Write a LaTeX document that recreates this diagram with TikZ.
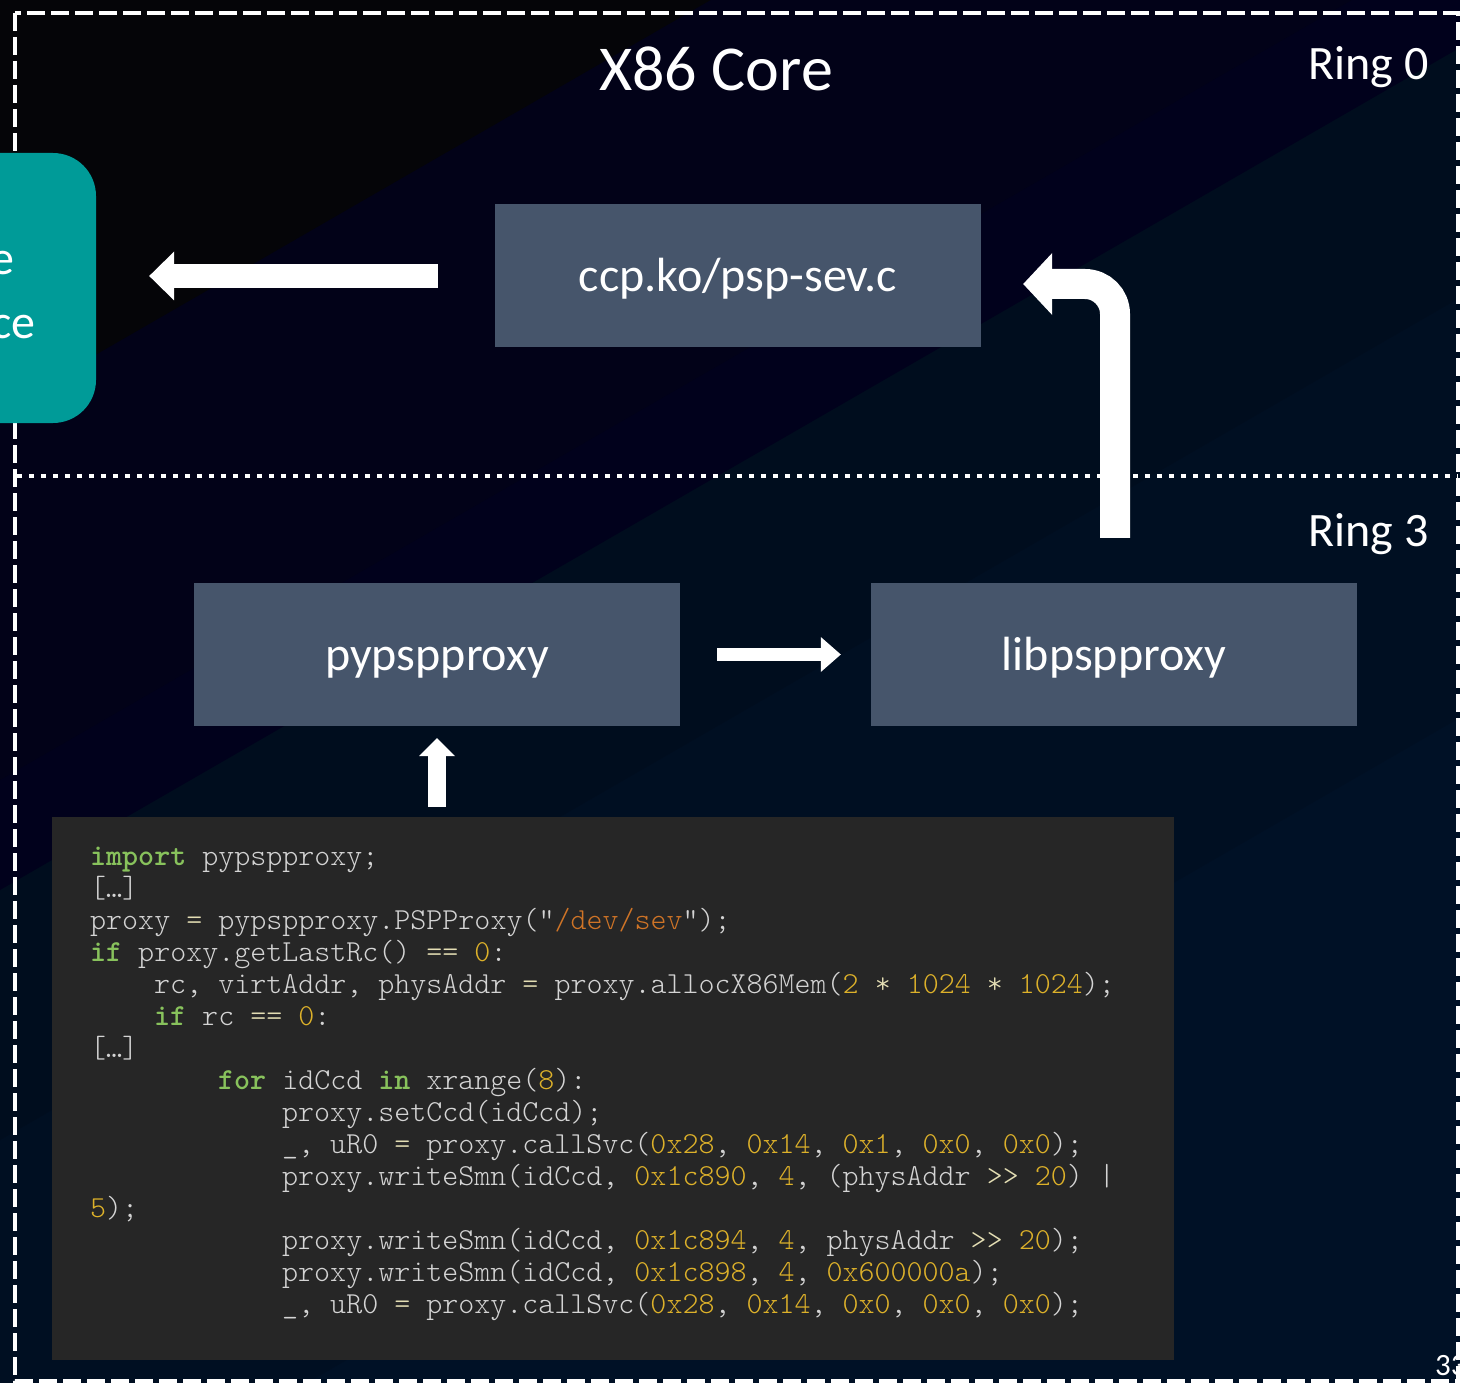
\documentclass[tikz,border=0pt]{standalone}
\usepackage{fontspec}
\setmainfont{Carlito}
\newfontfamily\codefont{lmmonolt10-regular.otf}[BoldFont=lmmonolt10-bold.otf]
\usetikzlibrary{calc}

% background bands
\definecolor{bgA}{HTML}{050508}
\definecolor{bgB}{HTML}{020218}
\definecolor{bgC}{HTML}{01011C}
\definecolor{bgD}{HTML}{000D1E}
\definecolor{bgE}{HTML}{000F22}
\definecolor{bgF}{HTML}{001126}
% shapes
\definecolor{boxslate}{HTML}{46556B}
\definecolor{pspteal}{HTML}{009B98}
\definecolor{codebgc}{HTML}{262626}
% code highlighting
\definecolor{codetext}{HTML}{D4D4D4}
\definecolor{codekw}{HTML}{88C25C}
\definecolor{codenum}{HTML}{DDB12A}
\definecolor{codestr}{HTML}{CF7426}
\definecolor{codeop}{HTML}{E4DEB4}

\newcommand\ckw[1]{\textcolor{codekw}{\textbf{#1}}}
\newcommand\cnum[1]{\textcolor{codenum}{#1}}
\newcommand\cstr[1]{\textcolor{codestr}{#1}}
\newcommand\cop[1]{\textcolor{codeop}{#1}}

\begin{document}
\begin{tikzpicture}[x=1pt, y=-1pt,
  box/.style={fill=boxslate, minimum width=486pt, minimum height=143pt,
    inner sep=0pt, text=white, font=\fontsize{48}{48}\selectfont,
    text height=36pt, text depth=5pt},
  lbl/.style={text=white, inner sep=0pt, font=\fontsize{48}{48}\selectfont},
  shaft/.style={draw=white, line cap=butt},
  codeline/.style={anchor=base west, inner sep=0pt, text=codetext,
    font=\codefont\fontsize{30.5}{32}\selectfont},
  dashedframe/.style={draw=white, line width=4.5pt, dash pattern=on 18pt off 6pt},
  dottedsep/.style={draw=white, line width=4.5pt, dash pattern=on 4.5pt off 7.5pt}]

\useasboundingbox (0,0) rectangle (1460,1383);
\clip (0,0) rectangle (1460,1383);

% diagonal background bands
\fill[bgF] (0,0) rectangle (1460,1383);
\fill[bgE] (0,1560) -- (1460,717.6) -- (1460,-700) -- (0,-700) -- cycle;
\fill[bgD] (0,1140) -- (1460,297.6) -- (1460,-700) -- (0,-700) -- cycle;
\fill[bgC] (0,890) -- (1460,47.6) -- (1460,-700) -- (0,-700) -- cycle;
\fill[bgB] (0,780) -- (1460,-62.4) -- (1460,-700) -- (0,-700) -- cycle;
\fill[bgA] (0,410) -- (1460,-432.4) -- (1460,-700) -- (0,-700) -- cycle;

% core frame and ring separator
\draw[dashedframe] (15,13) rectangle (1458,1381);
\draw[dottedsep] (17,476) -- (1458,476);

% secure processor block (cut off at the left edge)
\node[fill=pspteal, rounded corners=43pt, minimum width=250pt,
  minimum height=270pt, inner sep=0pt] (psp) at (-29,288) {};
\node[lbl, anchor=base east] (pspa) at (15,275) {e};
\node[lbl, anchor=base east] (pspb) at (36,338) {ce};

% titles
\node[text=white, inner sep=0pt, anchor=base,
  font=\fontsize{64}{64}\selectfont] (core) at (716,91) {X86 Core};
\node[lbl, anchor=base east] (ring0) at (1429,80) {Ring 0};
\node[lbl, anchor=base east] (ring3) at (1429,546) {Ring 3};

% software components
\node[box] (ccp) at (738,275.5) {ccp.ko/psp-sev.c};
\node[box] (pyp) at (437,654.5) {pypspproxy};
\node[box] (lib) at (1114,654.5) {libpspproxy};

% code listing
\node[fill=codebgc, minimum width=1122pt, minimum height=543pt,
  inner sep=0pt] (code) at (613,1088.5) {};

\node[codeline] (l1) at (90,865) {\ckw{import} pypspproxy;};
\node[codeline] (l2) at (90,897) {[…]};
\node[codeline] (l3) at (90,929) {proxy \cop{=} pypspproxy.PSPProxy("\cstr{/dev/sev}");};
\node[codeline] (l4) at (90,961) {\ckw{if} proxy.getLastRc() \cop{==} \cnum{0}:};
\node[codeline] (l5) at (154,993) {rc, virtAddr, physAddr \cop{=} proxy.allocX86Mem(\cnum{2} \cop{*} \cnum{1024} \cop{*} \cnum{1024});};
\node[codeline] (l6) at (154,1025) {\ckw{if} rc \cop{==} \cnum{0}:};
\node[codeline] (l7) at (90,1057) {[…]};
\node[codeline] (l8) at (218,1089) {\ckw{for} idCcd \ckw{in} xrange(\cnum{8}):};
\node[codeline] (l9) at (282,1121) {proxy.setCcd(idCcd);};
\node[codeline] (l10) at (282,1153) {\_, uR0 \cop{=} proxy.callSvc(\cnum{0x28}, \cnum{0x14}, \cnum{0x1}, \cnum{0x0}, \cnum{0x0});};
\node[codeline] (l11) at (282,1185) {proxy.writeSmn(idCcd, \cnum{0x1c890}, \cnum{4}, (physAddr \cop{>\kern0pt>} \cnum{20}) |};
\node[codeline] (l12) at (90,1217) {\cnum{5});};
\node[codeline] (l13) at (282,1249) {proxy.writeSmn(idCcd, \cnum{0x1c894}, \cnum{4}, physAddr \cop{>\kern0pt>} \cnum{20});};
\node[codeline] (l14) at (282,1281) {proxy.writeSmn(idCcd, \cnum{0x1c898}, \cnum{4}, \cnum{0x600000a});};
\node[codeline] (l15) at (282,1313) {\_, uR0 \cop{=} proxy.callSvc(\cnum{0x28}, \cnum{0x14}, \cnum{0x0}, \cnum{0x0}, \cnum{0x0});};

% driver -> secure processor
\coordinate (a1tail) at ($(ccp.west)+(-57,0.5)$);
\coordinate (a1tip) at ($(ccp.west -| psp.east)+(53,0.5)$);
\draw[shaft, line width=24pt] (a1tail) -- ($(a1tip)+(24,0)$);
\fill[white] (a1tip) -- ++(25,-24.5) -- ++(0,49) -- cycle;

% library -> driver (bent upward through the ring boundary)
\coordinate (a2tail) at ($(lib.north)+(1,-45)$);
\coordinate (a2tip) at ($(ccp.east)+(42,8.5)$);
\draw[shaft, line width=30pt, rounded corners=30pt] (a2tail) |- ($(a2tip)+(28,0)$);
\fill[white] (a2tip) -- ++(29,-31) -- ++(0,62) -- cycle;

% python binding -> library
\coordinate (a3tail) at ($(pyp.east)+(37,0)$);
\coordinate (a3tip) at ($(lib.west)+(-30,0)$);
\draw[shaft, line width=13pt] (a3tail) -- ($(a3tip)+(-19,0)$);
\fill[white] (a3tip) -- ++(-20,-17.5) -- ++(0,35) -- cycle;

% script -> python binding
\coordinate (a4tail) at ($(pyp.south)+(0,81)$);
\coordinate (a4tip) at ($(pyp.south)+(0,12)$);
\draw[shaft, line width=18pt] (a4tail) -- ($(a4tip)+(0,17)$);
\fill[white] (a4tip) -- ++(-18,18) -- ++(36,0) -- cycle;

% slide number
\node[text=white, inner sep=0pt, anchor=base west,
  font=\fontsize{31}{31}\selectfont] (pageno) at (1435,1375) {33};
\end{tikzpicture}
\end{document}
